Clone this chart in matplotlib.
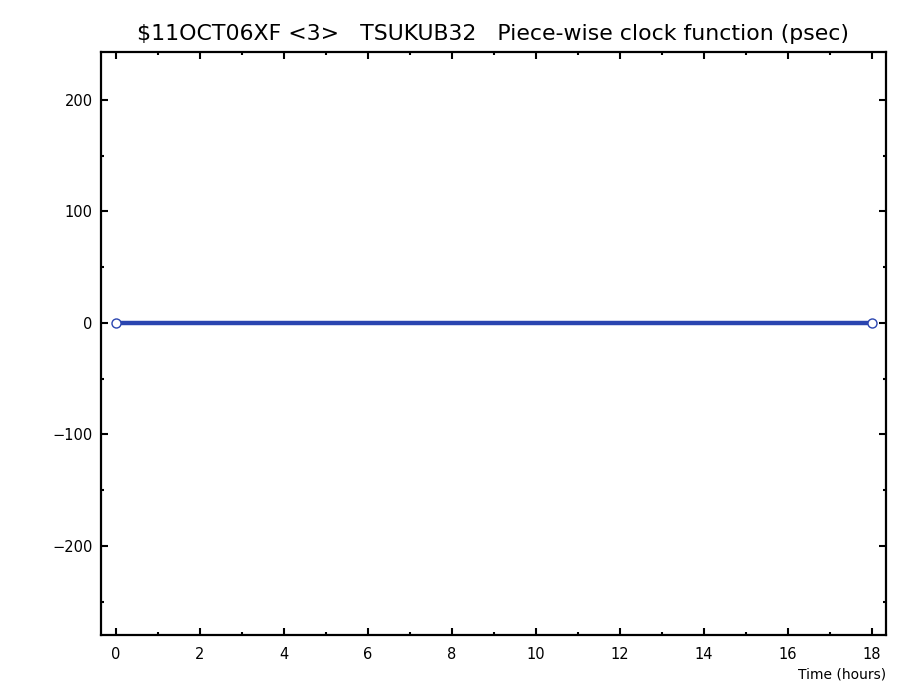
import matplotlib
matplotlib.use("Agg")
import matplotlib.pyplot as plt
from matplotlib.ticker import MultipleLocator

# clock function segment (hours, psec)
tiempo = [0.0, 18.0]
reloj = [0.0, 0.0]

titulo = "$11OCT06XF <3>   TSUKUB32   Piece-wise clock function (psec)"
xlabel = "Time (hours)"

plt.rcParams['font.family'] = ['DejaVu Sans']

fig = plt.figure(figsize=(9.05, 6.87), dpi=100)
ax = fig.add_axes([0.1116, 0.0757, 0.8674, 0.8486])

ax.plot(tiempo, reloj, color='#2a45b0', lw=3.2, zorder=2)
ax.plot(tiempo, reloj, 'o', ms=6.5, mfc='white', mec='#2a45b0', mew=1.0, zorder=3)

ax.set_xlim(-0.357, 18.333)
ax.set_ylim(-280, 243)
ax.xaxis.set_major_locator(MultipleLocator(2))
ax.xaxis.set_minor_locator(MultipleLocator(1))
ax.yaxis.set_major_locator(MultipleLocator(100))
ax.yaxis.set_minor_locator(MultipleLocator(50))

ax.tick_params(which='both', direction='in', top=True, right=True, width=1.5, labelsize=10.5)
ax.tick_params(which='major', length=5)
ax.tick_params(which='minor', length=2.5)
ax.xaxis.set_tick_params(pad=9)
ax.yaxis.set_tick_params(pad=6)
for s in ax.spines.values():
    s.set_linewidth(1.6)

ax.set_title(titulo.replace('$', r'\$'), fontsize=15.8, pad=9)
ax.text(1.0, -0.056, xlabel, transform=ax.transAxes, ha='right', va='top', fontsize=10)

fig.savefig('out.png', dpi=100)
